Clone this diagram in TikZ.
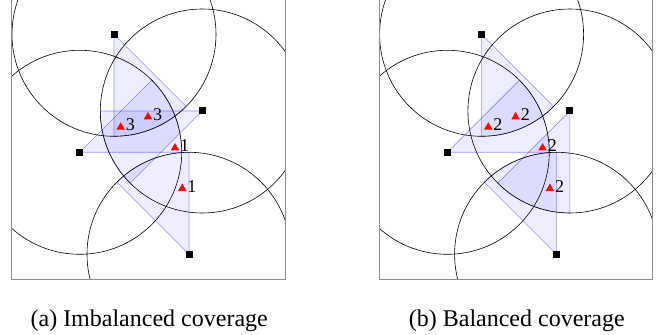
\documentclass[tikz,border=0pt]{standalone}
\usepackage{fontspec}
\setmainfont{Liberation Serif}
\usetikzlibrary{shapes.geometric,calc}
\tikzset{
  sensornode/.style={rectangle,fill=black,inner sep=0pt,minimum size=7pt},
  tgtnode/.style={regular polygon,regular polygon sides=3,fill=red,inner sep=0pt,minimum size=10pt},
  fovsector/.style={fill=blue,fill opacity=0.07,draw=blue,draw opacity=0.4,line width=0.6pt},
  rangecircle/.style={draw=black,line width=0.6pt},
  frameline/.style={draw=black!45,line width=0.9pt},
  countlbl/.style={font=\fontsize{18}{20}\selectfont,inner sep=0pt,anchor=base west},
  captlbl/.style={font=\fontsize{24}{28}\selectfont,inner sep=0pt,anchor=base}
}
% #1 prefix, #2 start angle of sensor 2 sector, #3-#6 counts, #7 caption
\newcommand\drawpanel[7]{%
  \coordinate (#1p1) at (114,300.7);
  \coordinate (#1p2) at (202.3,224);
  \coordinate (#1p3) at (79.7,182.7);
  \coordinate (#1p4) at (189,80.7);
  % sectors
  \path[fovsector] (#1p1) -- ++(270:102pt) arc[start angle=270,end angle=315,radius=102pt] -- cycle;
  \path[fovsector] (#1p2) -- ++(#2:102pt) arc[start angle=#2,end angle=#2+45,radius=102pt] -- cycle;
  \path[fovsector] (#1p3) -- ++(0:102pt) arc[start angle=0,end angle=45,radius=102pt] -- cycle;
  \path[fovsector] (#1p4) -- ++(90:102pt) arc[start angle=90,end angle=135,radius=102pt] -- cycle;
  % sensing ranges
  \begin{scope}
    \clip (11.7,56) rectangle (285,340);
    \foreach \k in {1,2,3,4}{\draw[rangecircle] (#1p\k) circle[radius=102pt];}
  \end{scope}
  % field frame
  \draw[frameline] (11.7,340) -- (11.7,56) -- (285,56) -- (285,340);
  % sensors
  \node[sensornode] (#1s1) at (#1p1) {};
  \node[sensornode] (#1s2) at (#1p2) {};
  \node[sensornode] (#1s3) at (#1p3) {};
  \node[sensornode] (#1s4) at (#1p4) {};
  % targets
  \node[tgtnode] (#1t1) at (120.7,207.75) {};
  \node[tgtnode] (#1t2) at (148,218) {};
  \node[tgtnode] (#1t3) at (175,187) {};
  \node[tgtnode] (#1t4) at (182.3,146.4) {};
  \node[countlbl] (#1c1) at ($(#1t1.corner 3)+(0.3,-1)$) {#3};
  \node[countlbl] (#1c2) at ($(#1t2.corner 3)+(0.3,-1)$) {#4};
  \node[countlbl] (#1c3) at ($(#1t3.corner 3)+(0.3,-1)$) {#5};
  \node[countlbl] (#1c4) at ($(#1t4.corner 3)+(0.3,-1)$) {#6};
  \node[captlbl] (#1cap) at (149.2,8.3) {#7};
}
\begin{document}
\begin{tikzpicture}[x=1pt,y=1pt]
  \useasboundingbox (0,0) rectangle (665,335);
  \begin{scope}
    \clip (0,0) rectangle (665,335);
    \drawpanel{a}{180}{3}{3}{1}{1}{(a) Imbalanced coverage}
    \begin{scope}[xshift=367.6pt]
      \drawpanel{b}{225}{2}{2}{2}{2}{(b) Balanced coverage}
    \end{scope}
  \end{scope}
\end{tikzpicture}
\end{document}
